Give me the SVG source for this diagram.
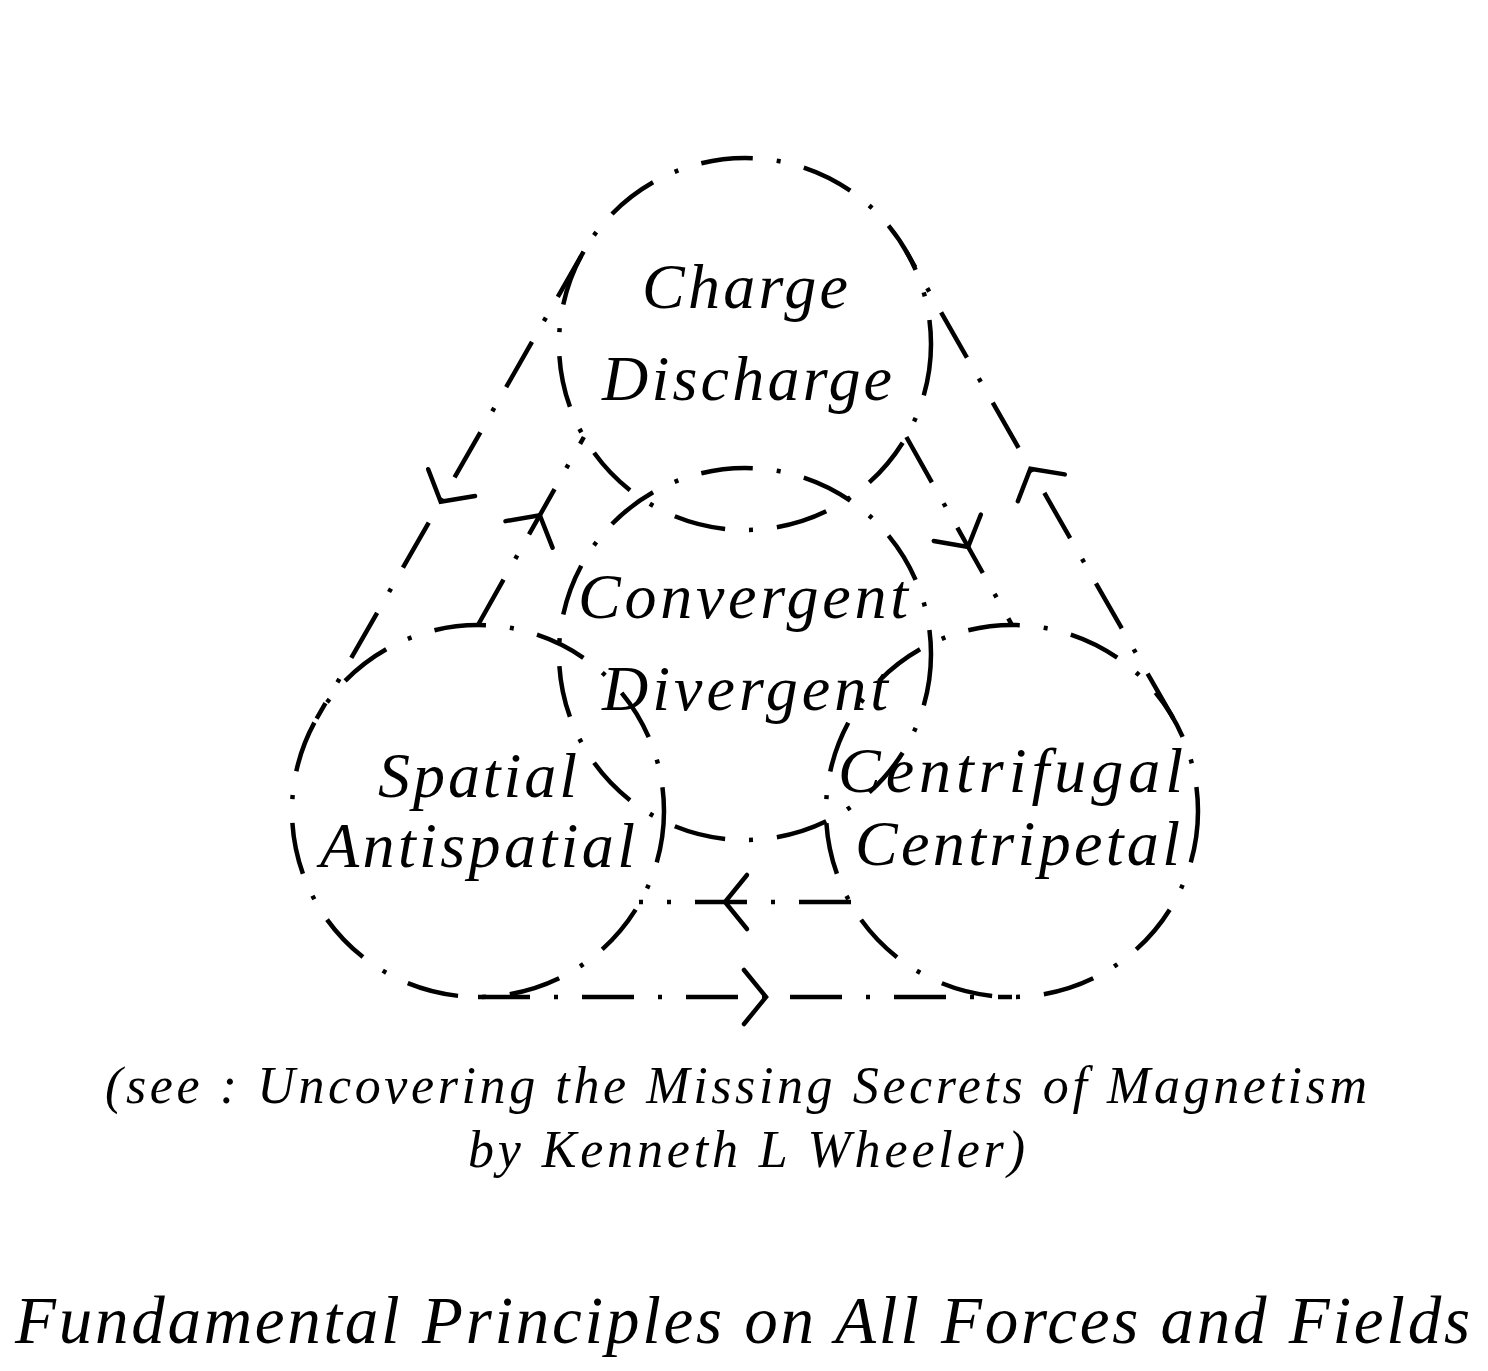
<svg xmlns="http://www.w3.org/2000/svg" width="1488" height="1371" viewBox="0 0 1488 1371">
<style>
.dd{fill:none;stroke:#000;stroke-width:4.5;stroke-dasharray:52 24 4 24;stroke-linecap:butt}
.ar{fill:none;stroke:#000;stroke-width:4.5;stroke-linecap:round;stroke-linejoin:miter}
.t{font-family:"Liberation Serif","Times New Roman",serif;font-style:italic;fill:#000}
.n{font-size:64px}
.c{font-size:52px}
.ti{font-size:67px}
</style>
<defs>
<path id="chev" d="M -22 -27 L 0 0 L -22 27"/>
</defs>
<rect width="1488" height="1371" fill="#fff"/>
<g id="node-charge">
<path class="dd" d="M 931 344 A 186 186 0 0 1 559 344 A 186 186 0 0 1 931 344"/>
<text class="t n" x="642" y="308" textLength="206" lengthAdjust="spacing">Charge</text>
<text class="t n" x="602" y="400" textLength="290" lengthAdjust="spacing">Discharge</text>
</g>
<g id="node-convergent">
<path class="dd" d="M 931 654 A 186 186 0 0 1 559 654 A 186 186 0 0 1 931 654"/>
<text class="t n" x="578" y="618" textLength="330" lengthAdjust="spacing">Convergent</text>
<text class="t n" x="602" y="710" textLength="286" lengthAdjust="spacing">Divergent</text>
</g>
<g id="node-spatial">
<path class="dd" d="M 664 811 A 186 186 0 0 1 292 811 A 186 186 0 0 1 664 811"/>
<text class="t n" x="378" y="797" textLength="199" lengthAdjust="spacing">Spatial</text>
<text class="t n" x="320" y="867" textLength="315" lengthAdjust="spacing">Antispatial</text>
</g>
<g id="node-centrifugal">
<path class="dd" d="M 1198 811 A 186 186 0 0 1 826 811 A 186 186 0 0 1 1198 811"/>
<text class="t n" x="838" y="792" textLength="345" lengthAdjust="spacing">Centrifugal</text>
<text class="t n" x="855" y="865" textLength="325" lengthAdjust="spacing">Centripetal</text>
</g>
<g id="connectors">
<path class="dd" d="M 583.6 251.7 L 316.6 718.7"/>
<path class="dd" d="M 478 997 L 1012 997"/>
<path class="dd" d="M 1173.4 718.7 L 906.4 251.7"/>
<path class="dd" d="M 478 625 L 583.9 437"/>
<path class="dd" d="M 906.4 437 L 1012 625"/>
<path class="dd" d="M 851 902 L 639 902"/>
<use href="#chev" class="ar" transform="translate(440.7 501.7) rotate(119.75)"/>
<use href="#chev" class="ar" transform="translate(766 997)"/>
<use href="#chev" class="ar" transform="translate(1030.4 468.7) rotate(-119.75)"/>
<use href="#chev" class="ar" transform="translate(539.8 515.2) rotate(-60.6)"/>
<use href="#chev" class="ar" transform="translate(968.1 546.9) rotate(60.7)"/>
<use href="#chev" class="ar" transform="translate(725 902) rotate(180)"/>
</g>
<g id="caption">
<text class="t c" x="105" y="1103" textLength="1262" lengthAdjust="spacing">(see : Uncovering the Missing Secrets of Magnetism</text>
<text class="t c" x="468" y="1167" textLength="557" lengthAdjust="spacing">by Kenneth L Wheeler)</text>
</g>
<g id="title">
<text class="t ti" x="15" y="1343" textLength="1455" lengthAdjust="spacing">Fundamental Principles on All Forces and Fields</text>
</g>
</svg>
